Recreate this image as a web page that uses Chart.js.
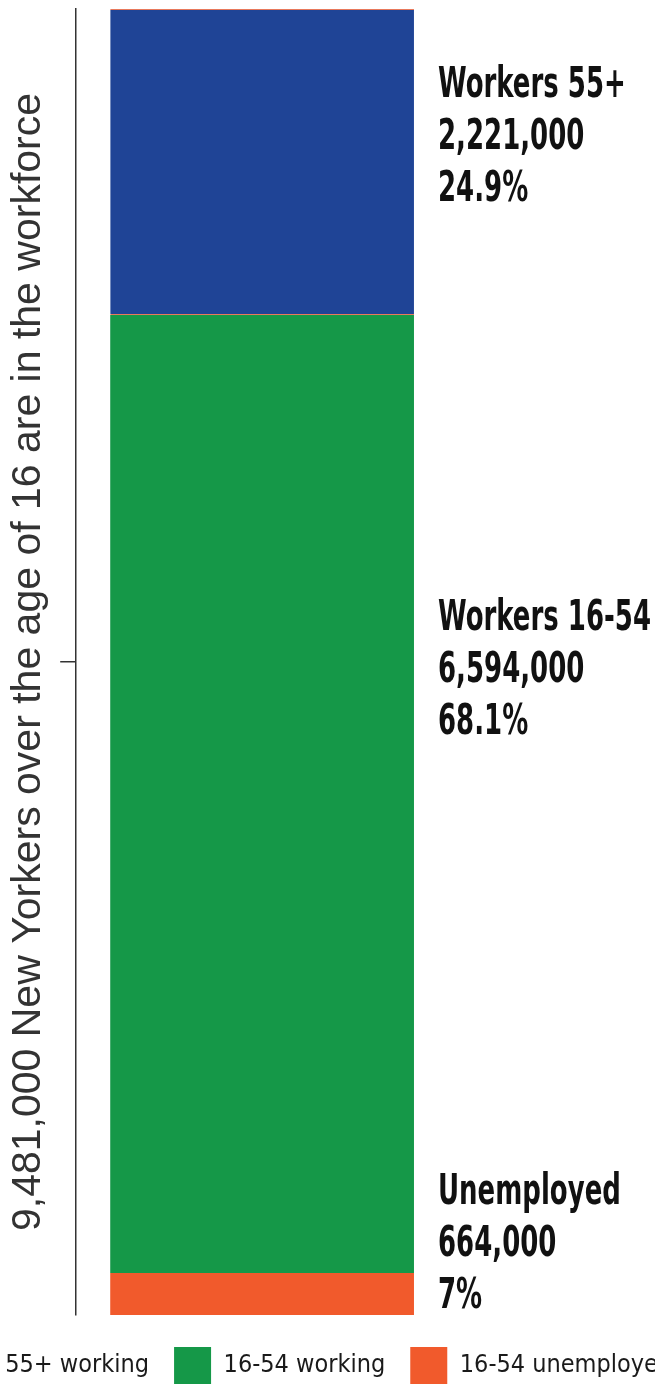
<!DOCTYPE html>
<html>
<head>
<meta charset="utf-8">
<script src="https://cdn.jsdelivr.net/npm/chart.js@4.4.1/dist/chart.umd.min.js"></script>
<style>
  html, body { margin: 0; padding: 0; background: #fff; overflow: hidden; width: 655px; height: 1385px; }
  #wrap { position: absolute; left: -122px; top: 0; width: 900px; height: 1394px; }
</style>
</head>
<body>
<div id="wrap"><canvas id="workforceChart" width="900" height="1394"></canvas></div>
<script>
// data (bar heights, totals from the title)
const categories = ['New Yorkers 16+'];
const seriesNames = ['16-54 unemployed', '16-54 working', '55+ working'];
const unemployed1654 = [305000];
const working1654 = [6955000];
const working55 = [2221000];
const axisMax = 9481000;
const axisTicks = [4740500];
const axisTitle = '9,481,000 New Yorkers over the age of 16 are in the workforce';

const labelNames = ['Workers 55+', 'Workers 16-54', 'Unemployed'];
const labelCounts = ['2,221,000', '6,594,000', '664,000'];
const labelShares = ['24.9%', '68.1%', '7%'];

// pick a narrow face if one is installed
function pickFont(list, weight) {
  const c = document.createElement('canvas').getContext('2d');
  const probe = 'Workers 16-54 unemployed 0123456789';
  c.font = weight + ' 40px monospace';
  const base = c.measureText(probe).width;
  for (const f of list) {
    c.font = weight + ' 40px "' + f + '", monospace';
    if (Math.abs(c.measureText(probe).width - base) > 0.5) return f;
  }
  return 'Liberation Sans';
}
const narrowBold = pickFont(['Liberation Sans Narrow', 'DejaVu Sans Condensed', 'Arial Narrow'], 'bold');
const narrow = pickFont(['Liberation Sans Narrow', 'DejaVu Sans Condensed', 'Arial Narrow'], 'normal');

const sideLabels = {
  id: 'sideLabels',
  afterDatasetsDraw(chart) {
    const ctx = chart.ctx;
    const area = chart.chartArea;
    const bar = chart.getDatasetMeta(0).data[0];
    const x = bar.x + bar.width / 2 + 24;
    const yMid = chart.scales.y.getPixelForValue(axisTicks[0]);
    const lh = 52;
    const firstLine = [area.top + 88, yMid + 20 - lh, area.bottom - 7 - 2 * lh];
    ctx.save();
    ctx.font = 'bold 43px "' + narrowBold + '"';
    ctx.fillStyle = '#111';
    ctx.textAlign = 'left';
    ctx.textBaseline = 'alphabetic';
    const sx = 213 / ctx.measureText('Workers 16-54').width;
    for (let i = 0; i < labelNames.length; i++) {
      const lines = [labelNames[i], labelCounts[i], labelShares[i]];
      lines.forEach((t, j) => {
        ctx.save();
        ctx.translate(x, firstLine[i] + j * lh);
        ctx.scale(sx, 1);
        ctx.fillText(t, 0, 0);
        ctx.restore();
      });
    }
    ctx.restore();
  }
};

const data = {
  labels: categories,
  datasets: [
    { label: seriesNames[0], data: unemployed1654, backgroundColor: '#f15a2c', borderWidth: 0 },
    { label: seriesNames[1], data: working1654, backgroundColor: '#159848', borderWidth: 0 },
    {
      label: seriesNames[2], data: working55, backgroundColor: '#1f4496',
      borderColor: '#e8795c', borderWidth: { top: 1, bottom: 1, left: 0, right: 0 }, borderSkipped: false
    }
  ]
};

const config = {
  type: 'bar',
  data: data,
  plugins: [sideLabels],
  options: {
    responsive: false,
    animation: false,
    layout: { padding: { top: 9, left: 0, right: 28, bottom: 0 } },
    datasets: { bar: { categoryPercentage: 1, barPercentage: 0.817 } },
    scales: {
      // x axis is invisible, it only keeps a small gap above the legend
      x: {
        stacked: true,
        ticks: { display: false },
        grid: { display: false, drawTicks: false },
        border: { display: false },
        afterFit: (scale) => { scale.height = 7; }
      },
      y: {
        stacked: true,
        min: 0,
        max: axisMax,
        afterBuildTicks: (scale) => { scale.ticks = axisTicks.map(v => ({ value: v })); },
        ticks: { display: false },
        grid: { drawOnChartArea: false, drawTicks: true, tickLength: 16, color: '#333', lineWidth: 1.5 },
        border: { display: true, color: '#333', width: 1.5 },
        title: {
          display: true,
          text: axisTitle,
          color: '#333',
          font: { family: 'Liberation Sans', size: 41, weight: 'normal', lineHeight: 1.2 },
          padding: { top: 126, bottom: 7 }
        }
      },
      // empty right-hand scale that only reserves room for the side labels
      yRight: {
        position: 'right',
        min: 0,
        max: axisMax,
        ticks: { display: false },
        grid: { display: false, drawTicks: false },
        border: { display: false },
        afterFit: (scale) => { scale.width = 302; }
      }
    },
    plugins: {
      legend: {
        position: 'bottom',
        reverse: true,
        labels: {
          boxWidth: 37,
          boxHeight: 37,
          padding: 25,
          color: '#1a1a1a',
          font: { family: narrow, size: 25 }
        }
      },
      tooltip: { enabled: false }
    }
  }
};

new Chart(document.getElementById('workforceChart').getContext('2d'), config);
</script>
</body>
</html>
